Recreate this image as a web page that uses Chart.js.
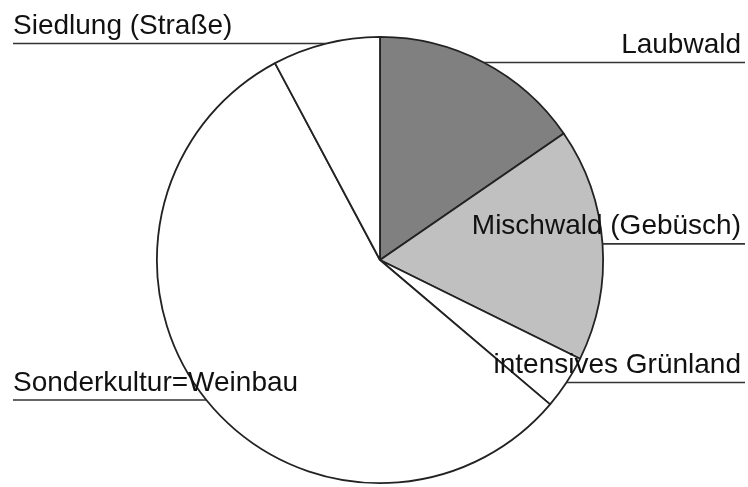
<!DOCTYPE html>
<html>
<head>
<meta charset="utf-8">
<script src="https://cdn.jsdelivr.net/npm/chart.js"></script>
<style>
  html, body { margin: 0; padding: 0; background: #fff; }
  #wrap { width: 748px; height: 487px; }
</style>
</head>
<body>
<div id="wrap"><canvas id="chart"></canvas></div>
<script>
// Land use shares (percent), clockwise from 12 o'clock
const categories = ['Laubwald', 'Mischwald (Gebüsch)', 'intensives Grünland', 'Sonderkultur=Weinbau', 'Siedlung (Straße)'];
const shares = [15.4, 16.9, 3.9, 56.0, 7.8];
const sliceColors = ['#808080', '#c0c0c0', '#ffffff', '#ffffff', '#ffffff'];

// Draws the horizontal leader lines and the labels sitting on them
const leaderLabels = {
    id: 'leaderLabels',
    afterDatasetsDraw(chart) {
        const ctx = chart.ctx;
        const arcs = chart.getDatasetMeta(0).data;
        ctx.save();
        ctx.font = '28px "Liberation Sans", Arial, sans-serif';
        ctx.fillStyle = '#111';
        ctx.strokeStyle = '#333';
        ctx.lineWidth = 1.6;
        ctx.textBaseline = 'alphabetic';
        arcs.forEach((arc, i) => {
            const p = arc.getProps(['x', 'y', 'startAngle', 'endAngle', 'outerRadius'], true);
            const mid = (p.startAngle + p.endAngle) / 2;
            const ex = p.x + Math.cos(mid) * p.outerRadius;
            const ey = p.y + Math.sin(mid) * p.outerRadius;
            const right = ex >= p.x;
            const lineEnd = right ? chart.width - 3 : 13;
            ctx.beginPath();
            ctx.moveTo(ex, ey);
            ctx.lineTo(lineEnd, ey);
            ctx.stroke();
            ctx.textAlign = right ? 'right' : 'left';
            ctx.fillText(categories[i], right ? chart.width - 7 : 13, ey - 9.5);
        });
        ctx.restore();
    }
};

new Chart(document.getElementById('chart'), {
    type: 'pie',
    data: {
        labels: categories,
        datasets: [{
            data: shares,
            backgroundColor: sliceColors,
            borderColor: '#222',
            borderWidth: 1.8
        }]
    },
    options: {
        responsive: true,
        maintainAspectRatio: false,
        animation: false,
        layout: { padding: { top: 36, bottom: 3, left: 156, right: 144 } },
        plugins: {
            legend: { display: false },
            tooltip: { enabled: false }
        }
    },
    plugins: [leaderLabels]
});
</script>
</body>
</html>
